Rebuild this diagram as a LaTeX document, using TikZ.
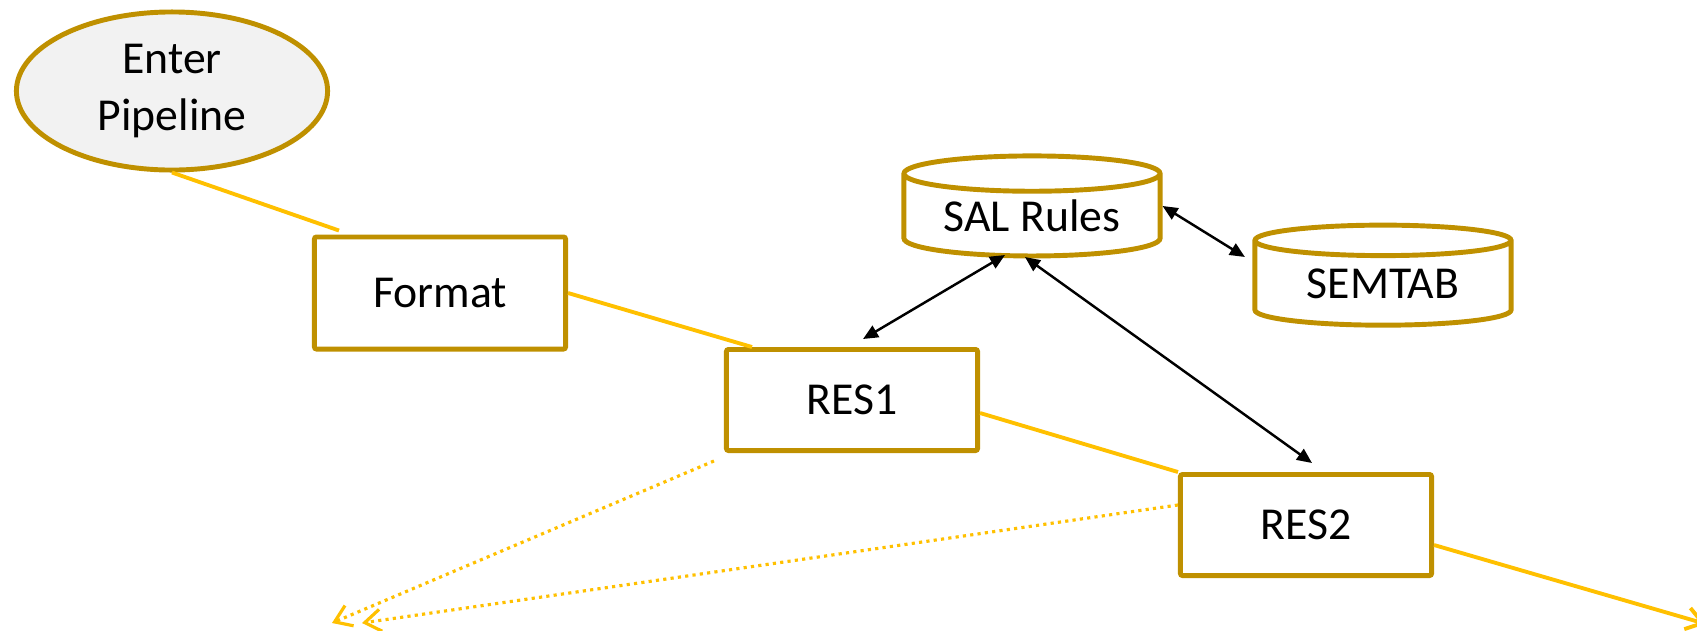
\documentclass[tikz,border=0pt]{standalone}
\usepackage{fontspec}
\setmainfont{Carlito}
\usetikzlibrary{shapes.geometric, arrows.meta}
\definecolor{ouro}{HTML}{BF9000}
\definecolor{amarelo}{HTML}{FFC000}
\definecolor{cinza}{HTML}{F2F2F2}

\begin{document}
\begin{tikzpicture}[x=0.01cm, y=-0.01cm,
    every node/.style={font=\fontsize{13}{16.2}\selectfont, inner sep=0pt},
    inicio/.style={ellipse, draw=ouro, fill=cinza, line width=1.4pt, minimum width=3.11cm, minimum height=1.58cm, align=center},
    etapa/.style={draw=ouro, line width=1.4pt, rounded corners=0.6pt, fill=white, minimum width=2.51cm, minimum height=1.01cm},
    banco/.style={cylinder, shape border rotate=90, draw=ouro, line width=1.4pt, aspect=0.2, minimum width=2.56cm, minimum height=1.0cm},
    fluxo/.style={draw=amarelo, line width=1.1pt},
    saida/.style={amarelo, line width=0.9pt, dash pattern=on 0.9pt off 1.2pt, -{Straight Barb[length=0.16cm, width=0.22cm]}},
    consulta/.style={line width=0.7pt, {Triangle[length=0.15cm, width=0.13cm]}-{Triangle[length=0.15cm, width=0.13cm]}}
]
    \useasboundingbox (0,0) rectangle (1697,630);

    % etapas do pipeline
    \node[inicio] (entrada) at (172,91) {Enter\\Pipeline};
    \node[etapa, minimum height=1.12cm] (format) at (440,293) {Format};
    \node[etapa] (res1) at (852,400) {RES1};
    \node[etapa] (res2) at (1306,525) {RES2};

    % bases de regras
    \node[banco] (sal) at (1032,216) {SAL Rules};
    \node[banco] (semtab) at (1383,284) {SEMTAB};

    % saidas (fora da figura)
    \coordinate (fim1) at (332,623);
    \coordinate (fim2) at (362,623);
    \coordinate (fim3) at (1706,624);

    % fluxo principal
    \draw[fluxo] (entrada.south) -- ([xshift=0.27cm, yshift=0.04cm]format.north west);
    \draw[fluxo] (format.east) -- ([xshift=0.28cm]res1.north west);
    \draw[fluxo] ([yshift=-0.13cm]res1.east) -- (res2.north west);
    \draw[fluxo, -{Straight Barb[length=0.16cm, width=0.22cm]}] ([yshift=-0.2cm]res2.east) -- (fim3);
    \draw[saida] ([xshift=-0.1cm, yshift=-0.08cm]res1.south west) -- (fim1);
    \draw[saida] ([yshift=0.2cm]res2.west) -- (fim2);

    % consultas as regras
    \draw[consulta] ([yshift=0.1cm]sal.east) -- ([xshift=-1.38cm, yshift=0.27cm]semtab.center);
    \draw[consulta] ([xshift=-0.27cm, yshift=-0.39cm]sal.center) -- ([xshift=0.11cm, yshift=0.08cm]res1.north);
    \draw[consulta] ([xshift=-0.07cm, yshift=-0.41cm]sal.center) -- ([xshift=0.06cm, yshift=0.09cm]res2.north);
\end{tikzpicture}
\end{document}
